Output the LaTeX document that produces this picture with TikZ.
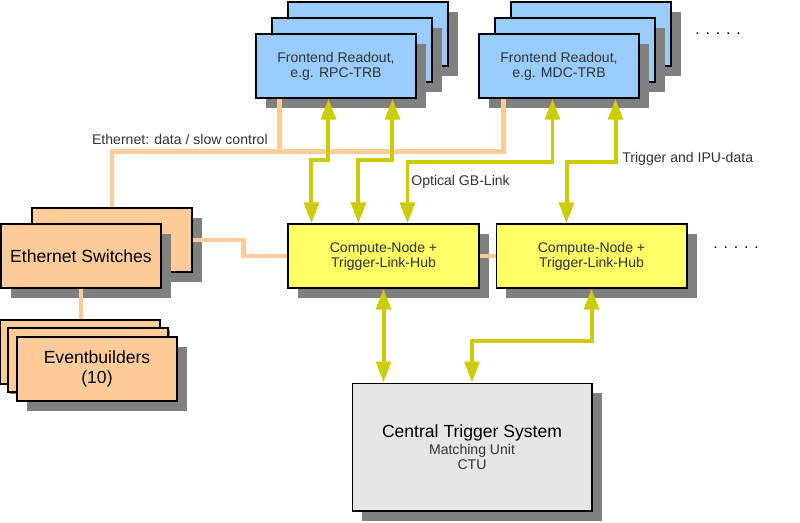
\documentclass[tikz,border=0pt]{standalone}
\usepackage{fontspec}
\setmainfont{Liberation Sans}
\usetikzlibrary{positioning}
\usetikzlibrary{shadows}
\usetikzlibrary{arrows.meta}
\usetikzlibrary{calc}
\definecolor{TRBblue}{HTML}{99CCFF}
\definecolor{TRBpeach}{HTML}{FFCC99}
\definecolor{TRByellow}{HTML}{FFFF66}
\definecolor{TRBlightgrey}{HTML}{E6E6E6}
\definecolor{TRBshadow}{HTML}{808080}
\definecolor{TRBolive}{HTML}{CCCC00}
\definecolor{TRBtext}{HTML}{333333}

\begin{document}
\begin{tikzpicture}[x=0.02cm,y=-0.02cm,every node/.style={inner sep=0pt},
  box/.style={draw=black,line width=0.6pt,align=center,
    drop shadow={shadow xshift=0.2cm,shadow yshift=-0.2cm,fill=TRBshadow,opacity=1}},
  frontend/.style={box,fill=TRBblue,minimum width=3.2cm,minimum height=1.28cm,
    text=TRBtext,font=\fontsize{8}{8.5}\selectfont},
  peachbox/.style={box,fill=TRBpeach,minimum width=3.2cm,minimum height=1.28cm,
    font=\fontsize{10}{11.5}\selectfont},
  hubbox/.style={box,fill=TRByellow,minimum width=3.82cm,minimum height=1.28cm,
    text=TRBtext,font=\fontsize{8}{8.5}\selectfont},
  ethline/.style={draw=TRBpeach,line width=0.09cm},
  trigline/.style={draw=TRBolive,line width=0.08cm,
    >={Triangle[width=0.29cm,length=0.42cm]},<->},
  caption/.style={text=TRBtext,font=\fontsize{8}{9}\selectfont}]

\useasboundingbox (0,0) rectangle (800,522);

% Frontends
\node[frontend] (rpcback) at (368,34) {};
\node[frontend] (rpcmid) at (352,50) {};
\node[frontend] (rpc) at (336,66) {Frontend Readout,\\e.g. RPC-TRB};

\node[frontend] (mdcback) at (591,34) {};
\node[frontend] (mdcmid) at (575,50) {};
\node[frontend] (mdc) at (559,66) {Frontend Readout,\\e.g. MDC-TRB};

\node[font=\fontsize{9}{9}\selectfont] (moretop) at (718,34) {. . . . .};

% Ethernet
\node[peachbox] (swback) at (112,240) {};
\node[peachbox] (sw) at (81,256) {Ethernet Switches};

\node[peachbox] (evback) at (80,352) {};
\node[peachbox] (evmid) at (88,360) {};
\node[peachbox] (ev) at (97,369) {Eventbuilders\\(10)};

% Hubs
\node[hubbox] (cn1) at (383.5,256) {Compute-Node +\\Trigger-Link-Hub};
\node[hubbox] (cn2) at (591.5,256) {Compute-Node +\\Trigger-Link-Hub};

\node[font=\fontsize{9}{9}\selectfont] (morehub) at (736,248) {. . . . .};

% CTS
\node[box,fill=TRBlightgrey,minimum width=4.8cm,minimum height=2.56cm,
  font=\fontsize{8}{8.5}\selectfont] (cts) at (472,447)
  {{\fontsize{10}{12}\selectfont Central Trigger System}\\[1pt]
   {\color{TRBtext}Matching Unit}\\
   {\color{TRBtext}CTU}};

% Ethernet lines
\draw[ethline] ($(mdc.south west)+(25,0)$) -- ++(0,53) -| (swback.north);
\draw[ethline] ($(rpc.south west)+(24,0)$) -- ++(0,53);
\draw[ethline] (swback.east) -- ++(51,0) |- (cn1.west);
\draw[ethline] (cn1.east) -- (cn2.west);
\draw[ethline] (sw.south) -- (sw.south |- evback.north);

% Optical links
\draw[trigline] ($(rpc.south west)+(73,0)$) -- ++(0,61) -| ($(cn1.north west)+(24,0)$);
\draw[trigline] ($(rpc.south west)+(137,0)$) -- ++(0,61) -| ($(cn1.north west)+(71,0)$);
\draw[trigline] ($(mdc.south west)+(74,0)$) -- ++(0,63) -| ($(cn1.north west)+(120,0)$);
\draw[trigline] ($(mdc.south west)+(137,0)$) -- ++(0,63) -| ($(cn2.north west)+(71,0)$);
\draw[trigline] (cn1.south) -- (cn1.south |- cts.north);
\draw[trigline] (cn2.south) -- ++(0,52) -| (cts.north);

\node[caption,anchor=east] (ethlabel) at (268,139) {Ethernet: data / slow control};
\node[caption,anchor=west] (gblabel) at (411,182) {Optical GB-Link};
\node[caption,anchor=west] (ipulabel) at (622,159) {Trigger and IPU-data};

\end{tikzpicture}
\end{document}
